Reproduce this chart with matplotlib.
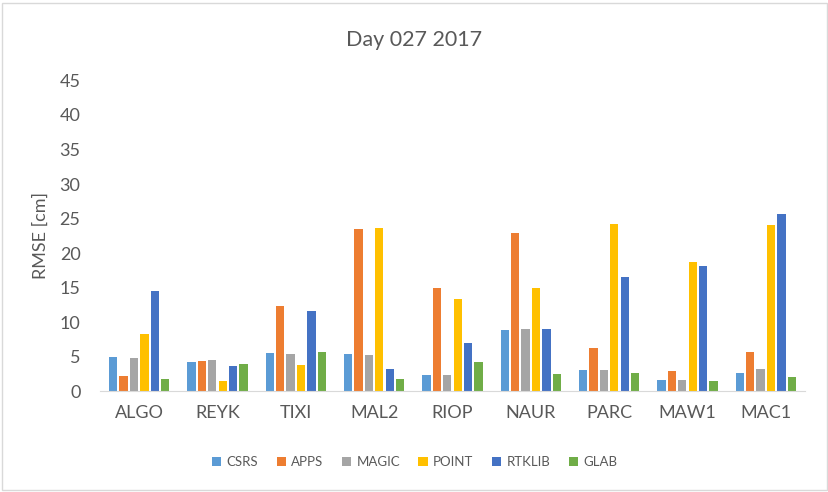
import matplotlib
matplotlib.use("Agg")
import matplotlib.pyplot as plt
import numpy as np
from matplotlib.patches import Rectangle

plt.rcParams['font.family'] = ['Lato', 'DejaVu Sans']

stations = ["ALGO", "REYK", "TIXI", "MAL2", "RIOP", "NAUR", "PARC", "MAW1", "MAC1"]
series_names = ["CSRS", "APPS", "MAGIC", "POINT", "RTKLIB", "GLAB"]
csrs   = [4.9, 4.15, 5.5, 5.4, 2.4, 8.9, 3.1, 1.6, 2.65]
apps   = [2.2, 4.35, 12.3, 23.5, 14.9, 22.9, 6.2, 2.9, 5.7]
magic  = [4.8, 4.45, 5.45, 5.25, 2.4, 9.0, 3.1, 1.6, 3.2]
point  = [8.25, 1.45, 3.75, 23.6, 13.4, 15.0, 24.2, 18.65, 24.0]
rtklib = [14.5, 3.7, 11.6, 3.2, 6.95, 8.95, 16.6, 18.1, 25.6]
glab   = [1.75, 4.0, 5.65, 1.75, 4.25, 2.5, 2.65, 1.45, 2.0]
colors = ["#5B9BD5", "#ED7D31", "#A5A5A5", "#FFC000", "#4472C4", "#70AD47"]
yticks = list(range(0, 50, 5))

data = [csrs, apps, magic, point, rtklib, glab]

fig = plt.figure(figsize=(8.29, 4.92), dpi=100)
ax = fig.add_axes([0.1206, 0.205, 0.8504, 0.6315])

x = np.arange(len(stations))
step = 0.133
width = 0.106
for i, (vals, name, c) in enumerate(zip(data, series_names, colors)):
    ax.bar(x + (i - 2.5) * step, vals, width=width, color=c, label=name)

ax.set_xlim(-0.5, len(stations) - 0.5)
ax.set_ylim(0, 45)
ax.set_yticks(yticks)
ax.set_xticks(x)
ax.set_xticklabels(stations)
ax.tick_params(axis='both', length=0, labelsize=13, colors='#595959')
ax.tick_params(axis='x', pad=10)
ax.tick_params(axis='y', pad=14)
for s in ['top', 'right', 'left']:
    ax.spines[s].set_visible(False)
ax.spines['bottom'].set_color('#D9D9D9')
ax.set_ylabel("RMSE [cm]", fontsize=13, color='#595959', labelpad=8)
fig.text(0.5, 0.918, "Day 027 2017", ha='center', va='center', fontsize=15.5, color='#595959')

leg = fig.legend(loc='center', bbox_to_anchor=(0.5, 0.061), ncol=6, frameon=False,
                 fontsize=9.5, handlelength=0.7, handleheight=0.7, handletextpad=0.4,
                 columnspacing=1.4, labelcolor='#595959')

fig.patches.append(Rectangle((0.003, 0.004), 0.994, 0.99, transform=fig.transFigure,
                             fill=False, edgecolor='#D9D9D9', linewidth=1))

fig.savefig("out.png", dpi=100)
